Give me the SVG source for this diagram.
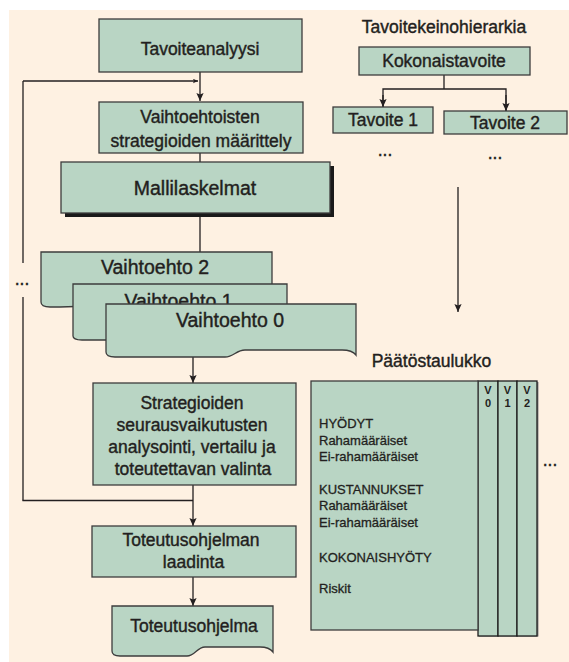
<svg xmlns="http://www.w3.org/2000/svg" width="569" height="662" viewBox="0 0 569 662">
<style>
  .box { fill: #b9d5c4; stroke: #3c3c3c; stroke-width: 1.3; }
  .shadow { fill: #1a1a1a; }
  .t { font-family: "Liberation Sans", Arial, sans-serif; fill: #231f20; stroke: #231f20; stroke-width: 0.4; }
  .m { font-size: 17.5px; text-anchor: middle; }
  .l { font-size: 19.5px; text-anchor: middle; }
  .s { font-size: 13px; stroke-width: 0.3; }
  .c { font-size: 11px; font-weight: bold; text-anchor: middle; stroke-width: 0; }
  .ln { fill: none; stroke: #231f20; stroke-width: 1.3; }
</style>
<defs>
  <marker id="ah" viewBox="0 0 10 10" refX="10" refY="5" markerUnits="userSpaceOnUse" markerWidth="8" markerHeight="9" orient="auto">
    <path d="M0,0.5 L10,5 L0,9.5 L2,5 Z" fill="#231f20"/>
  </marker>
  <marker id="ahs" viewBox="0 0 10 10" refX="10" refY="5" markerUnits="userSpaceOnUse" markerWidth="7" markerHeight="5" orient="auto">
    <path d="M0,0.5 L10,5 L0,9.5 L2,5 Z" fill="#231f20"/>
  </marker>
</defs>
<rect x="9" y="10" width="560" height="652" fill="#fef1e2"/>

<g id="connectors">
  <line class="ln" x1="200" y1="72" x2="200" y2="101" marker-end="url(#ah)"/>
  <line class="ln" x1="23" y1="81" x2="198" y2="81" marker-end="url(#ahs)"/>
  <line class="ln" x1="23" y1="81" x2="23" y2="263"/>
  <line class="ln" x1="23" y1="297" x2="23" y2="500.5"/>
  <line class="ln" x1="22.4" y1="500.5" x2="193" y2="500.5"/>
  <line class="ln" x1="200" y1="153" x2="200" y2="162"/>
  <line class="ln" x1="200" y1="217" x2="200" y2="252"/>
  <line class="ln" x1="193" y1="357" x2="193" y2="383" marker-end="url(#ah)"/>
  <line class="ln" x1="193" y1="485" x2="193" y2="526" marker-end="url(#ah)"/>
  <line class="ln" x1="193" y1="577" x2="193" y2="606" marker-end="url(#ah)"/>
  <line class="ln" x1="444" y1="75" x2="444" y2="89"/>
  <polyline class="ln" points="383,107 383,89 506,89 506,111"/>
  <line class="ln" x1="383" y1="95" x2="383" y2="107" marker-end="url(#ah)"/>
  <line class="ln" x1="506" y1="95" x2="506" y2="111" marker-end="url(#ah)"/>
  <line class="ln" x1="458" y1="187" x2="458" y2="312" marker-end="url(#ah)"/>
  <text class="t m" x="22" y="285">...</text>
</g>

<g id="tavoiteanalyysi">
  <rect class="box" x="99" y="19" width="203" height="53"/>
  <text class="t m" x="200" y="55">Tavoiteanalyysi</text>
</g>

<g id="vaihtoehtoisten">
  <rect class="box" x="99" y="102" width="204" height="51"/>
  <text class="t m" x="200" y="123">Vaihtoehtoisten</text>
  <text class="t m" x="201" y="146.5">strategioiden määrittely</text>
</g>

<g id="mallilaskelmat">
  <rect class="shadow" x="65" y="166" width="269" height="51"/>
  <rect class="box" x="61" y="162" width="269" height="51"/>
  <text class="t l" x="195" y="195">Mallilaskelmat</text>
</g>

<g id="vaihtoehto2">
  <path class="box" d="M41,252 H272 V300 L60,307 L50,307 C44,307 41,305 41,302 Z"/>
  <text class="t l" x="155" y="274">Vaihtoehto 2</text>
</g>

<g id="vaihtoehto1">
  <path class="box" d="M73,284 H287 V330 L110,340 L82,340 C76,340 73,338 73,336 Z"/>
  <text class="t l" x="178.5" y="307.5">Vaihtoehto 1</text>
</g>

<g id="vaihtoehto0">
  <path class="box" d="M106,304 H356 V355 C353,351 349,350 342,350 L245,350 C236,350 234,357 225,357 L115,357 C109,357 106,355 106,352 Z"/>
  <text class="t l" x="230" y="327">Vaihtoehto 0</text>
</g>

<g id="strategioiden">
  <rect class="box" x="93" y="383" width="203" height="102"/>
  <text class="t m" x="192" y="408.5">Strategioiden</text>
  <text class="t m" x="192" y="430.7">seurausvaikutusten</text>
  <text class="t m" x="192" y="452.9">analysointi, vertailu ja</text>
  <text class="t m" x="193" y="475">toteutettavan valinta</text>
</g>

<g id="laadinta">
  <rect class="box" x="92" y="526" width="204" height="51"/>
  <text class="t m" x="191" y="546">Toteutusohjelman</text>
  <text class="t m" x="193.5" y="568.3">laadinta</text>
</g>

<g id="toteutusohjelma">
  <path class="box" d="M112,606 H273 V652 C270,648 266,647 260,647 L205,647 C197,647 195,656 187,656 L120,656 C115,656 112,654 112,651 Z"/>
  <text class="t m" x="194" y="632">Toteutusohjelma</text>
</g>

<g id="hierarkia">
  <text class="t m" x="444" y="33">Tavoitekeinohierarkia</text>
</g>

<g id="kokonaistavoite">
  <rect class="box" x="359" y="47" width="171" height="28"/>
  <text class="t m" x="444" y="67">Kokonaistavoite</text>
</g>

<g id="tavoite1">
  <rect class="box" x="333" y="107" width="100" height="26"/>
  <text class="t m" x="383" y="126">Tavoite 1</text>
  <text class="t m" x="385" y="156">...</text>
</g>

<g id="tavoite2">
  <rect class="box" x="444" y="111" width="123" height="23"/>
  <text class="t m" x="505" y="129">Tavoite 2</text>
  <text class="t m" x="495" y="159">...</text>
</g>

<g id="paatostaulukko">
  <text class="t m" x="431.5" y="367">Päätöstaulukko</text>
  <rect x="479" y="382" width="59.5" height="254.5" fill="#8a8a8a"/>
  <rect class="box" x="478" y="381" width="20" height="255" style="stroke:#1e1e1e"/>
  <rect class="box" x="498" y="381" width="19" height="255" style="stroke:#1e1e1e"/>
  <rect class="box" x="517" y="381" width="20" height="255" style="stroke:#1e1e1e"/>
  <rect class="box" x="311" y="381" width="167" height="249"/>
  <text class="t c" x="488" y="394">V</text>
  <text class="t c" x="488" y="407">0</text>
  <text class="t c" x="507.5" y="394">V</text>
  <text class="t c" x="507.5" y="407">1</text>
  <text class="t c" x="527" y="394">V</text>
  <text class="t c" x="527" y="407">2</text>
  <text class="t s" x="319" y="428">HYÖDYT</text>
  <text class="t s" x="319" y="445">Rahamääräiset</text>
  <text class="t s" x="319" y="461">Ei-rahamääräiset</text>
  <text class="t s" x="319" y="494">KUSTANNUKSET</text>
  <text class="t s" x="319" y="510">Rahamääräiset</text>
  <text class="t s" x="319" y="527">Ei-rahamääräiset</text>
  <text class="t s" x="319" y="562">KOKONAISHYÖTY</text>
  <text class="t s" x="319" y="593">Riskit</text>
  <text class="t m" x="550" y="466">...</text>
</g>
</svg>
